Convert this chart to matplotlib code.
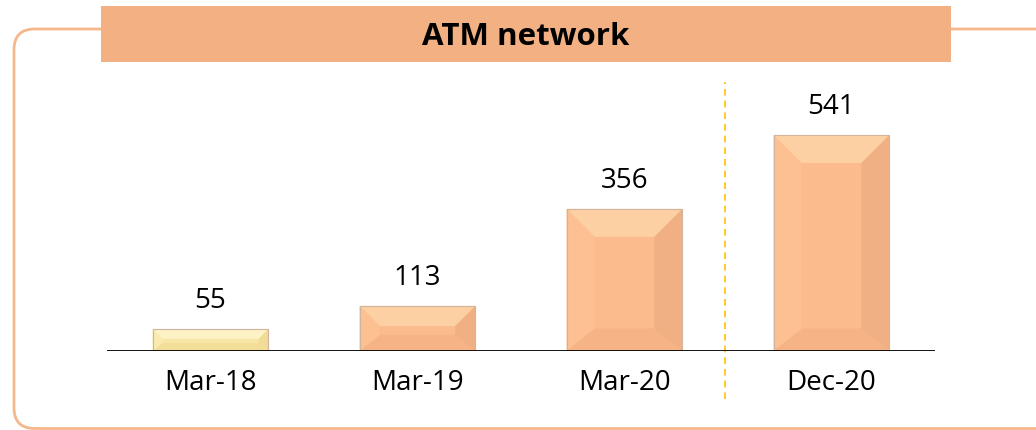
import matplotlib.pyplot as plt
from matplotlib.patches import Polygon, FancyBboxPatch, Rectangle
from matplotlib.lines import Line2D

# data
periods = ['Mar-18', 'Mar-19', 'Mar-20', 'Dec-20']
atms = [55, 113, 356, 541]
bar_colors = ['#F8E6A6', '#FBBB8D', '#FBBB8D', '#FBBB8D']
top_colors = ['#FCF2C6', '#FDD0A4', '#FDD0A4', '#FDD0A4']
bot_colors = ['#F3DE98', '#F5B386', '#F5B386', '#F5B386']
left_colors = ['#FAEAB0', '#FCC093', '#FCC093', '#FCC093']
right_colors = ['#F0DB97', '#F1B083', '#F1B083', '#F1B083']

W, H = 1036, 431
fig = plt.figure(figsize=(W / 100, H / 100), dpi=100)
plt.rcParams['font.family'] = ['Open Sans', 'DejaVu Sans']

# outer rounded frame and title band (figure pixel coords)
frame = FancyBboxPatch((14 / W, 1.5 / H), 1.2, (H - 31.5) / H,
                       boxstyle='round,pad=0,rounding_size=0.02',
                       transform=fig.transFigure, fill=False,
                       edgecolor='#F5B78C', linewidth=2, mutation_aspect=W / H)
fig.patches.append(frame)
band = Rectangle((101 / W, (H - 63) / H), 850 / W, 56 / H,
                 transform=fig.transFigure, facecolor='#F3B183', edgecolor='none')
fig.patches.append(band)
fig.text(526 / W, (H - 37) / H, 'ATM network', ha='center', va='center',
         fontsize=22.5, fontweight='bold', color='black')

# axes: baseline at y=352px, x from 107 to 935 px
ymax = 600
base_px = 352
top_px = base_px - ymax * 0.3993
ax = fig.add_axes([107 / W, (H - base_px) / H, 828 / W, (base_px - top_px) / H])
ax.set_xlim(-0.5, 3.5)
ax.set_ylim(0, ymax)
ax.axis('off')

x = list(range(len(periods)))
bars = ax.bar(x, atms, width=0.56, color=bar_colors, edgecolor='none', zorder=2)

# bevel effect on each bar
px_x = 828 / 4.0   # pixels per category unit
px_y = 0.3993      # pixels per value unit
for i, b in enumerate(bars):
    x0, y0 = b.get_x(), 0
    x1, y1 = x0 + b.get_width(), b.get_height()
    bpx = min(28, y1 * px_y * 0.45)
    bx, by = bpx / px_x, bpx / px_y
    polys = [
        ([(x0, y1), (x1, y1), (x1 - bx, y1 - by), (x0 + bx, y1 - by)], top_colors[i]),
        ([(x0, y0), (x1, y0), (x1 - bx, y0 + by * 0.8), (x0 + bx, y0 + by * 0.8)], bot_colors[i]),
        ([(x0, y0), (x0, y1), (x0 + bx, y1 - by), (x0 + bx, y0 + by * 0.8)], left_colors[i]),
        ([(x1, y0), (x1, y1), (x1 - bx, y1 - by), (x1 - bx, y0 + by * 0.8)], right_colors[i]),
    ]
    for pts, c in polys:
        ax.add_patch(Polygon(pts, closed=True, facecolor=c, edgecolor='none', zorder=3))
    ax.add_patch(Rectangle((x0, y0), x1 - x0, y1, fill=False,
                           edgecolor='#D2B49C', linewidth=0.8, zorder=4))
    ax.text(x[i], y1 + 29 / px_y, str(atms[i]), ha='center', va='center',
            fontsize=20, color='black')
    ax.text(x[i], -31 / px_y, periods[i], ha='center', va='center',
            fontsize=20, color='black')

# baseline
ax.axhline(0, color='black', linewidth=1.3, zorder=5)
# dashed divider
ax.add_line(Line2D([2.486, 2.486], [-48 / px_y, 269 / px_y], color='#FFC000',
                   linestyle=(0, (4, 3)), linewidth=1.2, clip_on=False, zorder=1))

fig.savefig('out.png', dpi=100)
